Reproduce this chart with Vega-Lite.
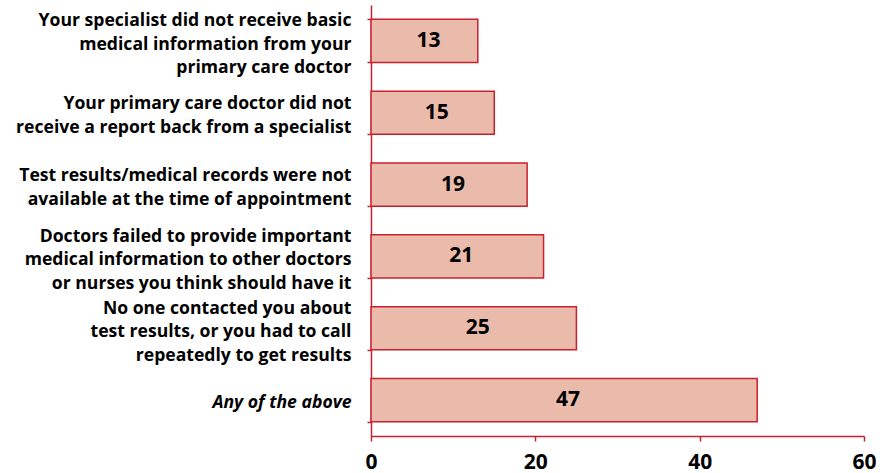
{
  "$schema": "https://vega.github.io/schema/vega-lite/v6.json",
  "width": 493,
  "height": 431,
  "autosize": {"type": "none"},
  "padding": {"left": 371, "top": 5, "right": 21, "bottom": 37},
  "background": "white",
  "config": {"view": {"stroke": null}, "font": "Open Sans"},
  "data": {
    "values": [
      {"label": "Your specialist did not receive basic|medical information from your|primary care doctor", "value": 13},
      {"label": "Your primary care doctor did not|receive a report back from a specialist", "value": 15},
      {"label": "Test results/medical records were not|available at the time of appointment", "value": 19},
      {"label": "Doctors failed to provide important|medical information to other doctors|or nurses you think should have it", "value": 21},
      {"label": "No one contacted you about |test results, or you had to call|repeatedly to get results", "value": 25},
      {"label": "Any of the above", "value": 47}
    ]
  },
  "transform": [{"calculate": "datum.value / 2", "as": "mid"}],
  "encoding": {
    "y": {
      "field": "label",
      "type": "nominal",
      "sort": null,
      "scale": {"paddingInner": 0.4, "paddingOuter": 0.2},
      "axis": {
        "title": null,
        "domainColor": "#C8202F",
        "domainWidth": 1.5,
        "tickColor": "#C8202F",
        "tickWidth": 1.5,
        "tickSize": 4,
        "tickBand": "extent",
        "labelExpr": "split(datum.label, '|')",
        "labelFont": "Open Sans",
        "labelFontSize": 17.6,
        "labelFontWeight": "bold",
        "labelColor": "black",
        "labelLineHeight": 23.5,
        "labelPadding": 16,
        "labelLimit": 400,
        "labelBaseline": "alphabetic",
        "labelOffset": {"condition": [
          {"test": "length(split(datum.value, '|')) == 3", "value": -15},
          {"test": "length(split(datum.value, '|')) == 2", "value": -4}
        ], "value": 7},
        "labelFontStyle": {"condition": {"test": "datum.value == 'Any of the above'", "value": "italic"}, "value": "normal"}
      }
    }
  },
  "layer": [
    {
      "mark": {"type": "bar", "fill": "#EABBAA", "stroke": "#C8202F", "strokeWidth": 1.5},
      "encoding": {
        "x": {
          "field": "value",
          "type": "quantitative",
          "scale": {"domain": [0, 60]},
          "axis": {
            "title": null,
            "values": [0, 20, 40, 60],
            "grid": false,
            "domainColor": "#C8202F",
            "domainWidth": 1.5,
            "tickColor": "#C8202F",
            "tickWidth": 1.5,
            "tickSize": 5,
            "labelFont": "Open Sans",
            "labelFontSize": 21,
            "labelFontWeight": "bold",
            "labelColor": "black",
            "labelPadding": 10,
            "labelFlush": false
          }
        }
      }
    },
    {
      "mark": {"type": "text", "font": "Open Sans", "fontSize": 21, "fontWeight": "bold", "color": "black", "dx": 4},
      "encoding": {
        "x": {"field": "mid", "type": "quantitative"},
        "text": {"field": "value", "type": "quantitative"}
      }
    }
  ]
}
